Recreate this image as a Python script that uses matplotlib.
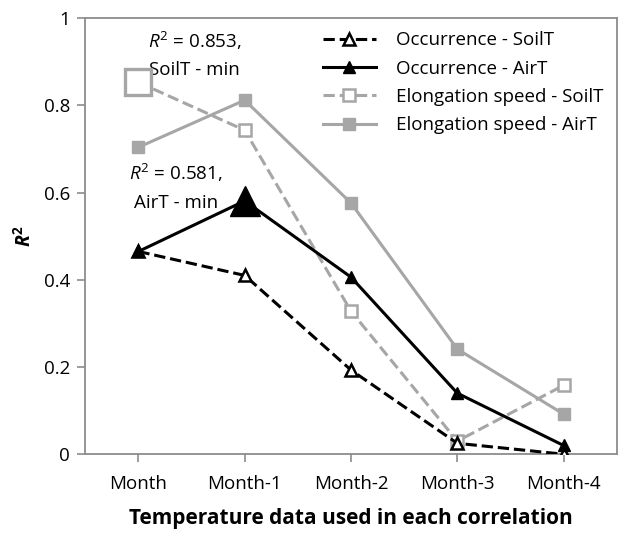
import matplotlib.pyplot as plt

plt.rcParams['font.family'] = ['Open Sans', 'DejaVu Sans']
plt.rcParams['mathtext.fontset'] = 'custom'
plt.rcParams['mathtext.rm'] = 'Open Sans'
plt.rcParams['mathtext.it'] = 'Open Sans:italic'
plt.rcParams['mathtext.bf'] = 'Open Sans:bold'
plt.rcParams['mathtext.bfit'] = 'Open Sans:bold:italic'

months = ["Month", "Month-1", "Month-2", "Month-3", "Month-4"]
occ_soil = [0.465, 0.41, 0.193, 0.025, 0.0]
occ_air = [0.465, 0.581, 0.406, 0.14, 0.02]
elong_soil = [0.853, 0.743, 0.328, 0.03, 0.158]
elong_air = [0.704, 0.812, 0.576, 0.241, 0.092]

grey = '#a6a6a6'
axis_grey = '#8c8c8c'
x = list(range(len(months)))

fig, ax = plt.subplots(figsize=(6.18, 5.35), dpi=100)
fig.subplots_adjust(left=0.138, right=0.998, top=0.966, bottom=0.151)

ax.plot(x, occ_soil, ls='--', color='black', lw=2.2, marker='^', ms=9,
        mfc='white', mec='black', mew=1.8, label="Occurrence - SoilT", zorder=4)
ax.plot(x, occ_air, ls='-', color='black', lw=2.2, marker='^', ms=9,
        mfc='black', mec='black', label="Occurrence - AirT", zorder=4)
ax.plot(x, elong_soil, ls='--', color=grey, lw=2.2, marker='s', ms=9,
        mfc='white', mec=grey, mew=1.8, label="Elongation speed - SoilT", zorder=3)
ax.plot(x, elong_air, ls='-', color=grey, lw=2.2, marker='s', ms=9,
        mfc=grey, mec=grey, label="Elongation speed - AirT", zorder=3)

# highlight the best correlation of each elongation / occurrence series
i_es = elong_soil.index(max(elong_soil))
ax.plot(x[i_es], elong_soil[i_es], marker='s', ms=19, mfc='white', mec=grey,
        mew=2.4, ls='none', zorder=5)
i_oa = occ_air.index(max(occ_air))
ax.plot(x[i_oa], occ_air[i_oa], marker='^', ms=21, mfc='black', mec='black',
        ls='none', zorder=5)

ax.text(0.53, 0.917, f"$R^2$ = {elong_soil[i_es]:.3f},\nSoilT - min",
        ha='center', va='center', fontsize=13.5, linespacing=1.65)
ax.text(0.35, 0.613, f"$R^2$ = {occ_air[i_oa]:.3f},\nAirT - min",
        ha='center', va='center', fontsize=13.5, linespacing=1.65)

ax.set_xlim(-0.5, 4.5)
ax.set_ylim(0, 1)
ax.set_xticks(x)
ax.set_xticklabels(months)
ax.set_yticks([0, 0.2, 0.4, 0.6, 0.8, 1])
ax.set_yticklabels(["0", "0.2", "0.4", "0.6", "0.8", "1"])
ax.tick_params(axis='both', labelsize=13.5, color=axis_grey, length=6, width=1.2)
ax.tick_params(axis='x', pad=9)
ax.tick_params(axis='y', pad=5)
for s in ax.spines.values():
    s.set_color(axis_grey)
    s.set_linewidth(1.3)

ax.set_ylabel("$\\mathbfit{R}^\\mathbf{2}$", fontsize=14, labelpad=6)
ax.set_xlabel("Temperature data used in each correlation", fontsize=15,
              fontweight='bold', labelpad=11)

ax.legend(loc='upper right', frameon=False, fontsize=13.5, handlelength=2.8,
          labelspacing=0.55, borderaxespad=0.3, handletextpad=1.1,
          bbox_to_anchor=(1.0, 1.0))

fig.savefig("out.png", dpi=100)
